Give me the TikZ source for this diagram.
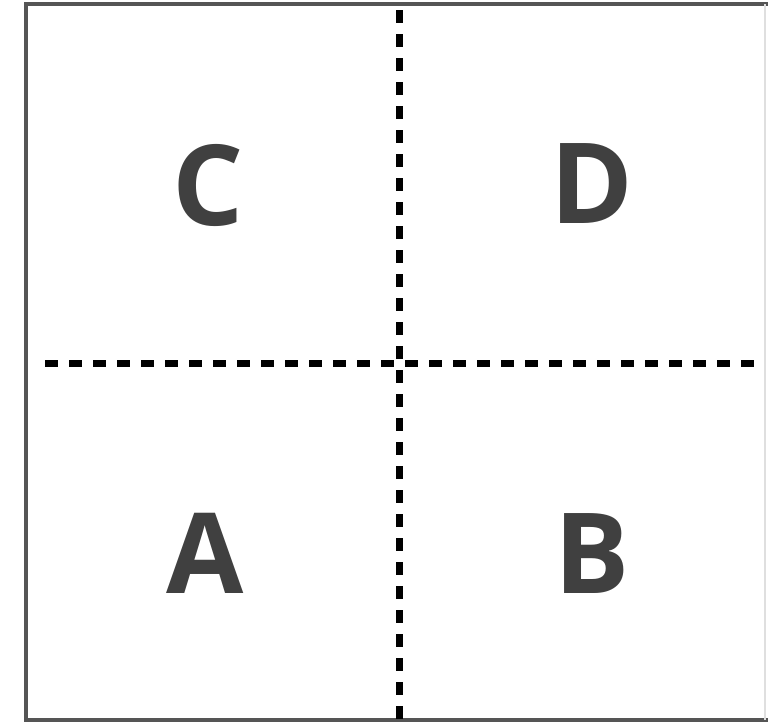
\documentclass[tikz,border=0pt]{standalone}
\usepackage{fontspec}
\setmainfont{Open Sans}
\begin{document}
\begin{tikzpicture}[x=1pt,y=-1pt]
\definecolor{frame}{HTML}{555555}
\definecolor{letter}{HTML}{404040}
\tikzset{
  quadlabel/.style={anchor=base,text=letter,font=\fontsize{112}{112}\selectfont\bfseries,inner sep=0pt},
  divider/.style={line width=7pt,black,dash pattern=on 13pt off 11pt}
}
\useasboundingbox (0,0) rectangle (768,726);
\fill[white] (0,0) rectangle (768,726);
% frame
\draw[frame,line width=4pt] (768,4) -- (26,4) -- (26,720) -- (768,720);
\draw[gray!25,line width=2pt] (765,4) -- (765,720);
% dividers
\coordinate (vt) at (399.5,10);
\coordinate (vb) at (399.5,720);
\coordinate (hl) at (45,363);
\coordinate (hr) at (757,363);
\draw[divider] (vt) -- (vb);
\draw[divider] (hl) -- (hr);
% labels
\node[quadlabel] (C) at (208,225) {C};
\node[quadlabel] (D) at (592,223) {D};
\node[quadlabel] (A) at (205,593) {A};
\node[quadlabel] (B) at (592,593) {B};
\end{tikzpicture}
\end{document}
